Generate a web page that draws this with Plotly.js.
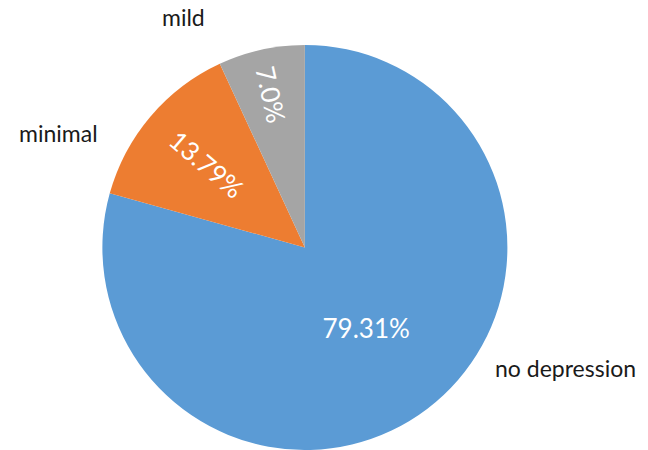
<!DOCTYPE html>
<html>
<head>
<meta charset="utf-8">
<script src="https://cdn.plot.ly/plotly-3.0.1.min.js"></script>
<style>html,body{margin:0;padding:0;background:#fff;}#chart{width:648px;height:450px;}</style>
</head>
<body>
<div id="chart"></div>
<script>
const categories = ["no depression", "minimal", "mild"];
const shares = [79.31, 13.79, 6.90];
const shareLabels = ["79.31%", "13.79%", "7.0%"];
const sliceColors = ["#5b9bd5", "#ed7d31", "#a5a5a5"];

const domain = {x: [0.158, 0.783], y: [0, 0.9]};
const font = "Lato, 'Open Sans', sans-serif";

const radialTrace = {
  type: "pie",
  values: shares,
  labels: categories,
  sort: false,
  direction: "clockwise",
  rotation: 0,
  domain: domain,
  marker: {colors: sliceColors, line: {color: "#ffffff", width: 0}},
  text: shareLabels.map((t, i) => i === 0 ? "" : t),
  textinfo: "text",
  textposition: "inside",
  insidetextorientation: "radial",
  insidetextfont: {family: font, size: 26, color: "#ffffff"},
  hoverinfo: "none",
  showlegend: false
};

const horizontalTrace = {
  type: "pie",
  values: shares,
  labels: categories,
  sort: false,
  direction: "clockwise",
  rotation: 0,
  domain: domain,
  marker: {colors: ["rgba(0,0,0,0)", "rgba(0,0,0,0)", "rgba(0,0,0,0)"], line: {width: 0}},
  text: shareLabels.map((t, i) => i === 0 ? t : ""),
  textinfo: "text",
  textposition: "inside",
  insidetextorientation: "horizontal",
  insidetextfont: {family: font, size: 26, color: "#ffffff"},
  hoverinfo: "none",
  showlegend: false
};

const labelPos = [[0.872, 0.182], [0.091, 0.705], [0.283, 0.962]];
const annotations = categories.map((c, i) => ({
  text: c,
  xref: "paper", yref: "paper",
  x: labelPos[i][0], y: labelPos[i][1],
  xanchor: "center", yanchor: "middle",
  showarrow: false,
  font: {family: font, size: 23, color: "#1a1a1a"}
}));

Plotly.newPlot("chart", [radialTrace, horizontalTrace], {
  width: 648, height: 450,
  margin: {l: 0, r: 0, t: 0, b: 0},
  paper_bgcolor: "#ffffff",
  showlegend: false,
  annotations: annotations
}, {displayModeBar: false, staticPlot: true});
</script>
</body>
</html>
